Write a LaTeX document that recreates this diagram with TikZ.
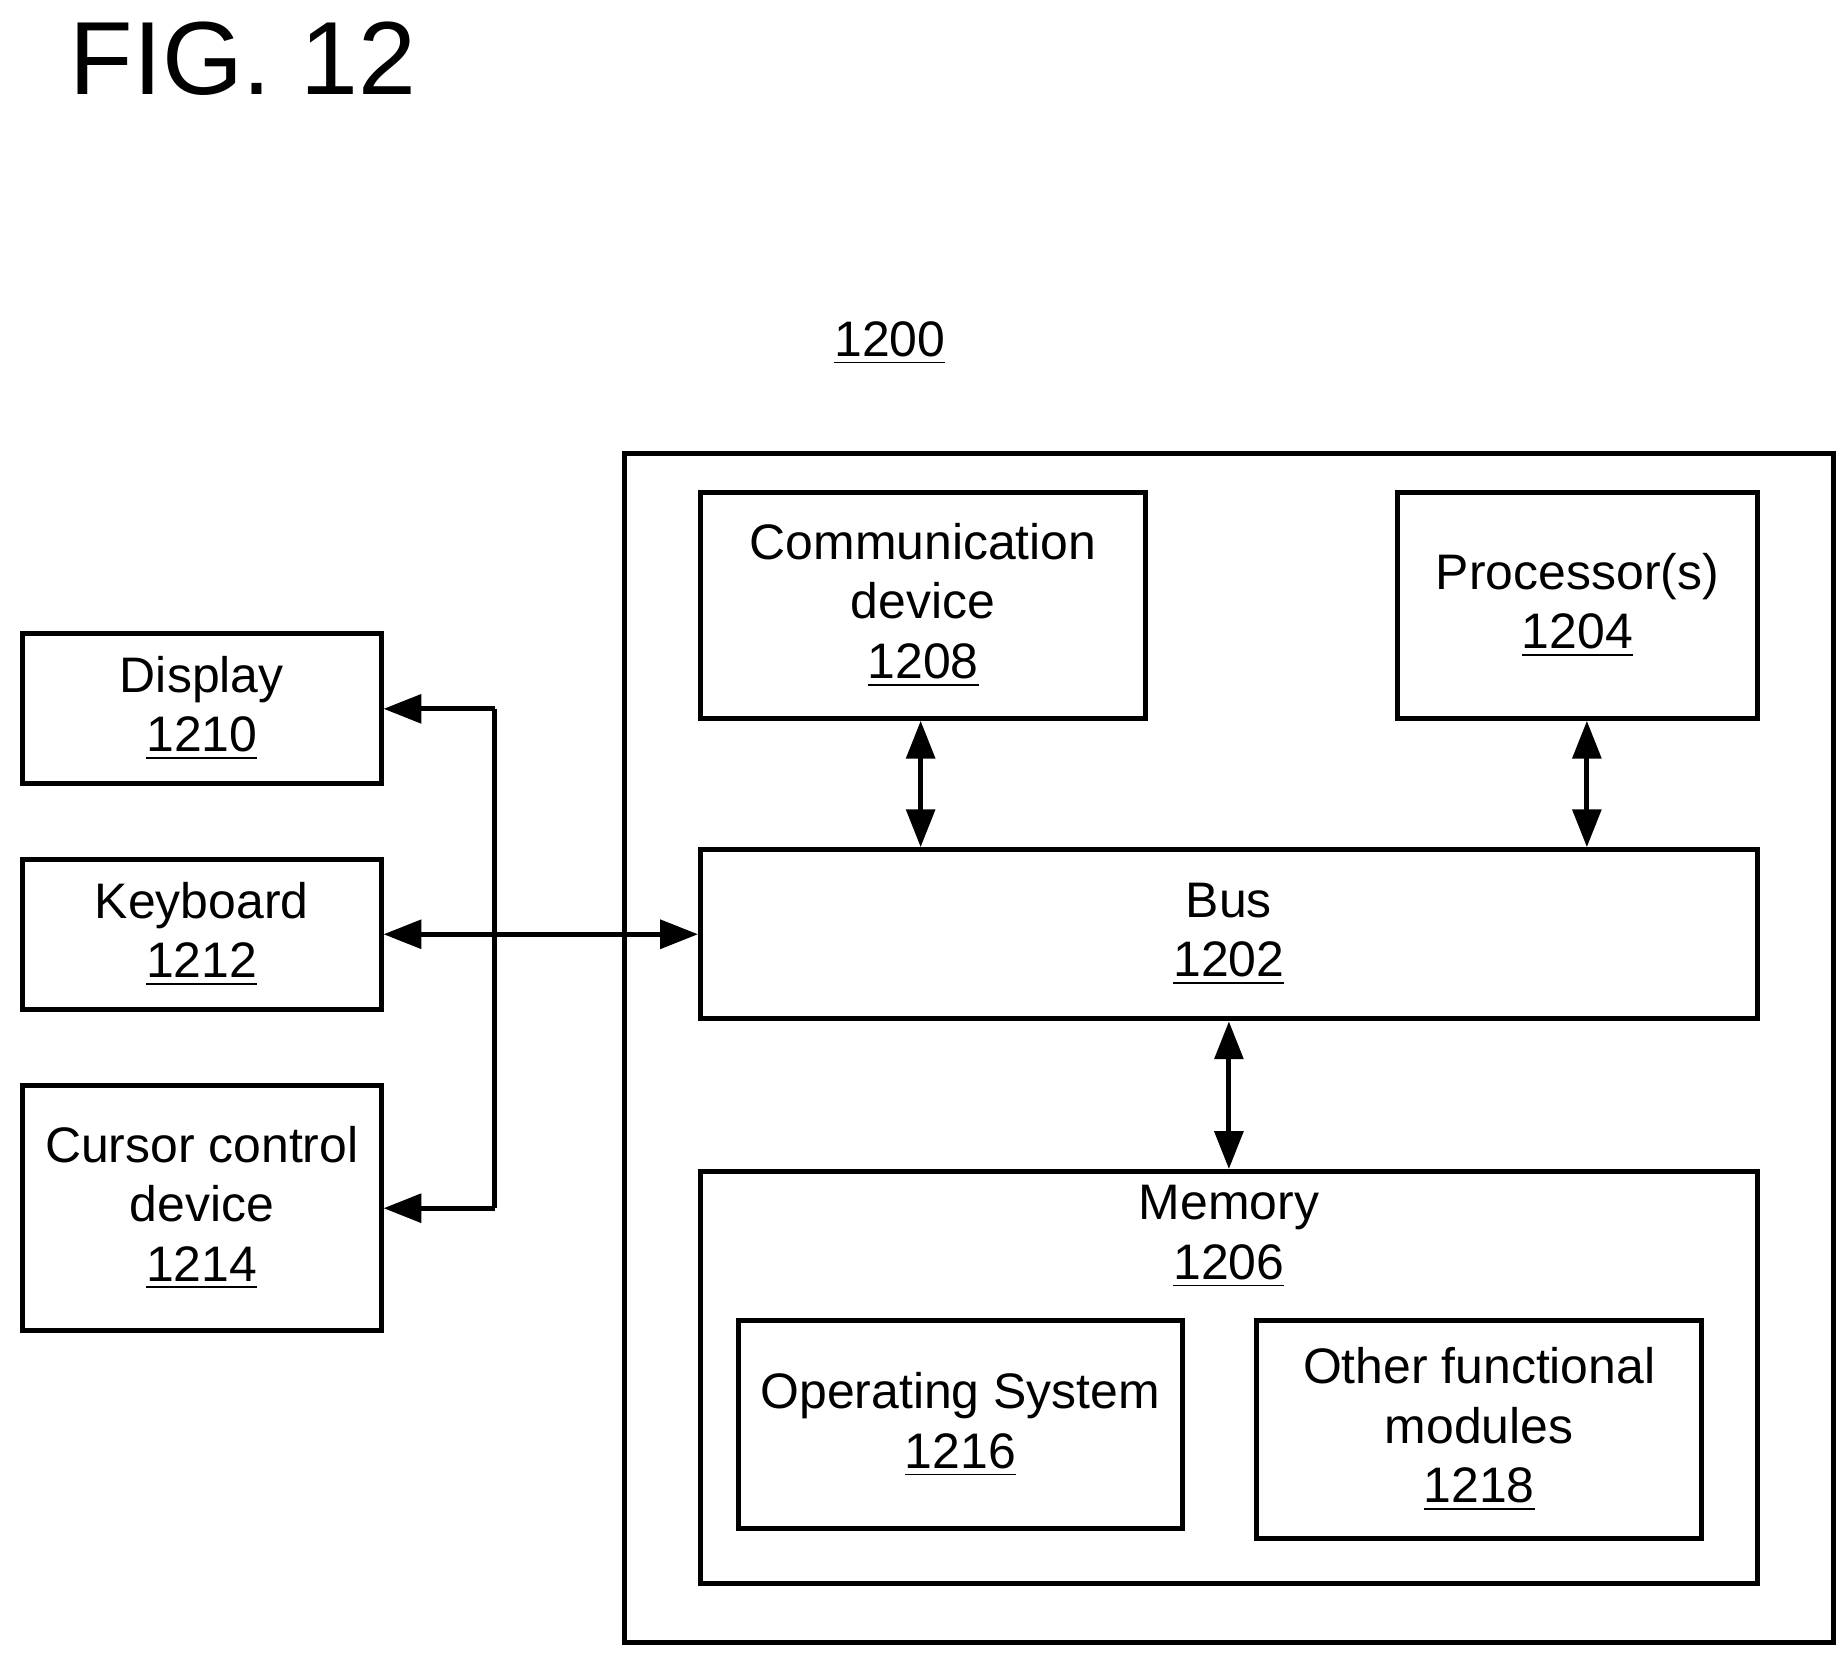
\documentclass[tikz,border=0pt]{standalone}
\usepackage{fontspec}
\setmainfont{Liberation Sans}
\usetikzlibrary{positioning, arrows.meta}

\begin{document}
\begin{tikzpicture}[x=1cm, y=-1cm, line width=1.2pt,
		box/.style={draw, rectangle, align=center, inner sep=0pt, font=\fontsize{12}{14.3}\selectfont},
		link/.style={{Triangle[length=0.32cm,width=0.24cm]}-{Triangle[length=0.32cm,width=0.24cm]}}]

	\useasboundingbox (0,0) rectangle (15.6,14.0);

	\node[anchor=west, font=\fontsize{25}{30}\selectfont] (fig) at (0.45,0.5) {FIG. 12};
	\node[font=\fontsize{12}{14}\selectfont] (num) at (7.52,2.9) {\underline{1200}};

	% computer
	\draw (5.28,3.83) rectangle (15.49,13.88);
	\node[box, minimum width=3.76cm, minimum height=1.91cm] (comm) at (7.80,5.115) {Communication\\device\\\underline{1208}};
	\node[box, minimum width=3.04cm, minimum height=1.91cm] (proc) at (13.33,5.115) {Processor(s)\\\underline{1204}};
	\node[box, minimum width=8.93cm, minimum height=1.43cm] (bus) at (10.385,7.895) {Bus\\\underline{1202}};
	\node[box, minimum width=8.93cm, minimum height=3.48cm,
		label={[anchor=north, align=center, font=\fontsize{12}{14.3}\selectfont]north:Memory\\\underline{1206}}] (mem) at (10.385,11.64) {};
	\node[box, minimum width=3.75cm, minimum height=1.76cm] (os) at (8.115,12.04) {Operating System\\\underline{1216}};
	\node[box, minimum width=3.76cm, minimum height=1.84cm] (other) at (12.50,12.08) {Other functional\\modules\\\underline{1218}};

	% peripherals
	\node[box, minimum width=3.03cm, minimum height=1.27cm] (disp) at (1.705,5.985) {Display\\\underline{1210}};
	\node[box, minimum width=3.03cm, minimum height=1.27cm] (kbd) at (1.705,7.895) {Keyboard\\\underline{1212}};
	\node[box, minimum width=3.03cm, minimum height=2.07cm] (cur) at (1.705,10.205) {Cursor control\\device\\\underline{1214}};

	\coordinate (jtop) at (4.18,5.99);
	\coordinate (jbot) at (4.18,10.21);

	\draw[link] (comm.south -| 7.78,0) -- (bus.north -| 7.78,0);
	\draw[link] (proc.south -| 13.41,0) -- (bus.north -| 13.41,0);
	\draw[link] (bus.south) -- (mem.north);
	\draw[link] (kbd.east) -- (bus.west);
	\draw[-{Triangle[length=0.32cm,width=0.24cm]}] (jtop) -- (disp.east |- jtop);
	\draw[-{Triangle[length=0.32cm,width=0.24cm]}] (jbot) -- (cur.east |- jbot);
	\draw (jtop) -- (jbot);
\end{tikzpicture}
\end{document}
